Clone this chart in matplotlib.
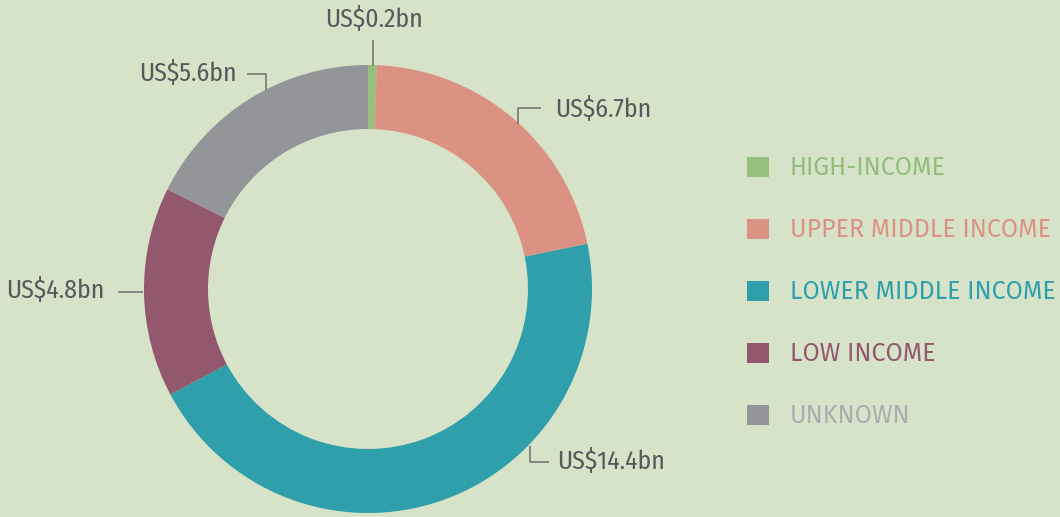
import numpy as np
import matplotlib
matplotlib.use("Agg")
from matplotlib import pyplot as plt
from matplotlib.patches import Rectangle

# data
categories = ["HIGH-INCOME", "UPPER MIDDLE INCOME", "LOWER MIDDLE INCOME", "LOW INCOME", "UNKNOWN"]
values = [0.2, 6.7, 14.4, 4.8, 5.6]
value_labels = ["US$0.2bn", "US$6.7bn", "US$14.4bn", "US$4.8bn", "US$5.6bn"]

colors = ["#97bf7e", "#db9283", "#2e9fab", "#93586d", "#939598"]
legend_text_colors = ["#93bd7c", "#db9283", "#2e9fab", "#93586d", "#a9adb0"]
bg = "#d6e3c9"
txt = "#58595b"

W, H = 1060, 517
fig = plt.figure(figsize=(W / 100, H / 100), dpi=100, facecolor=bg)
ax = fig.add_axes([0, 0, 1, 1])
ax.set_facecolor(bg)

cx, cy, r_out, r_in = 368, 289, 224, 160
# y axis is flipped below, so counterclock=True ends up clockwise on screen
ax.pie(values, colors=colors, startangle=-90, counterclock=True,
       center=(cx, cy), radius=r_out, frame=True,
       wedgeprops=dict(width=r_out - r_in, linewidth=0))
ax.set_xlim(0, W)
ax.set_ylim(H, 0)
ax.axis("off")
ax.set_aspect("equal")

# leader lines (pixel coords) and label anchors
leaders = [
    [(373, 66), (373, 40)],
    [(518, 124), (518, 108), (541, 108)],
    [(530, 446), (530, 462), (549, 462)],
    [(143, 292), (118, 292)],
    [(266, 90), (266, 74), (247, 74)],
]
label_pos = [(374, 19, "center"), (555, 109, "left"), (557, 461, "left"),
             (105, 290, "right"), (237, 73, "right")]

lab_font = ["Fira Sans Condensed", "DejaVu Sans"]
leg_font = ["Fira Sans", "DejaVu Sans"]
for pts, (lx, ly, ha), lab in zip(leaders, label_pos, value_labels):
    xs, ys = zip(*pts)
    ax.plot(xs, ys, color="#6d6e70", lw=1.1, solid_capstyle="butt")
    ax.text(lx, ly, lab, ha=ha, va="center", fontsize=18.5, color=txt, family=lab_font)

# legend
for i, (cat, c, tc) in enumerate(zip(categories, colors, legend_text_colors)):
    y = 167 + i * 62
    ax.add_patch(Rectangle((747, y - 10), 22, 20, color=c, lw=0))
    ax.text(790, y + 1, cat, ha="left", va="center", fontsize=18, color=tc, family=leg_font)

fig.savefig("out.png", dpi=100, facecolor=bg)
